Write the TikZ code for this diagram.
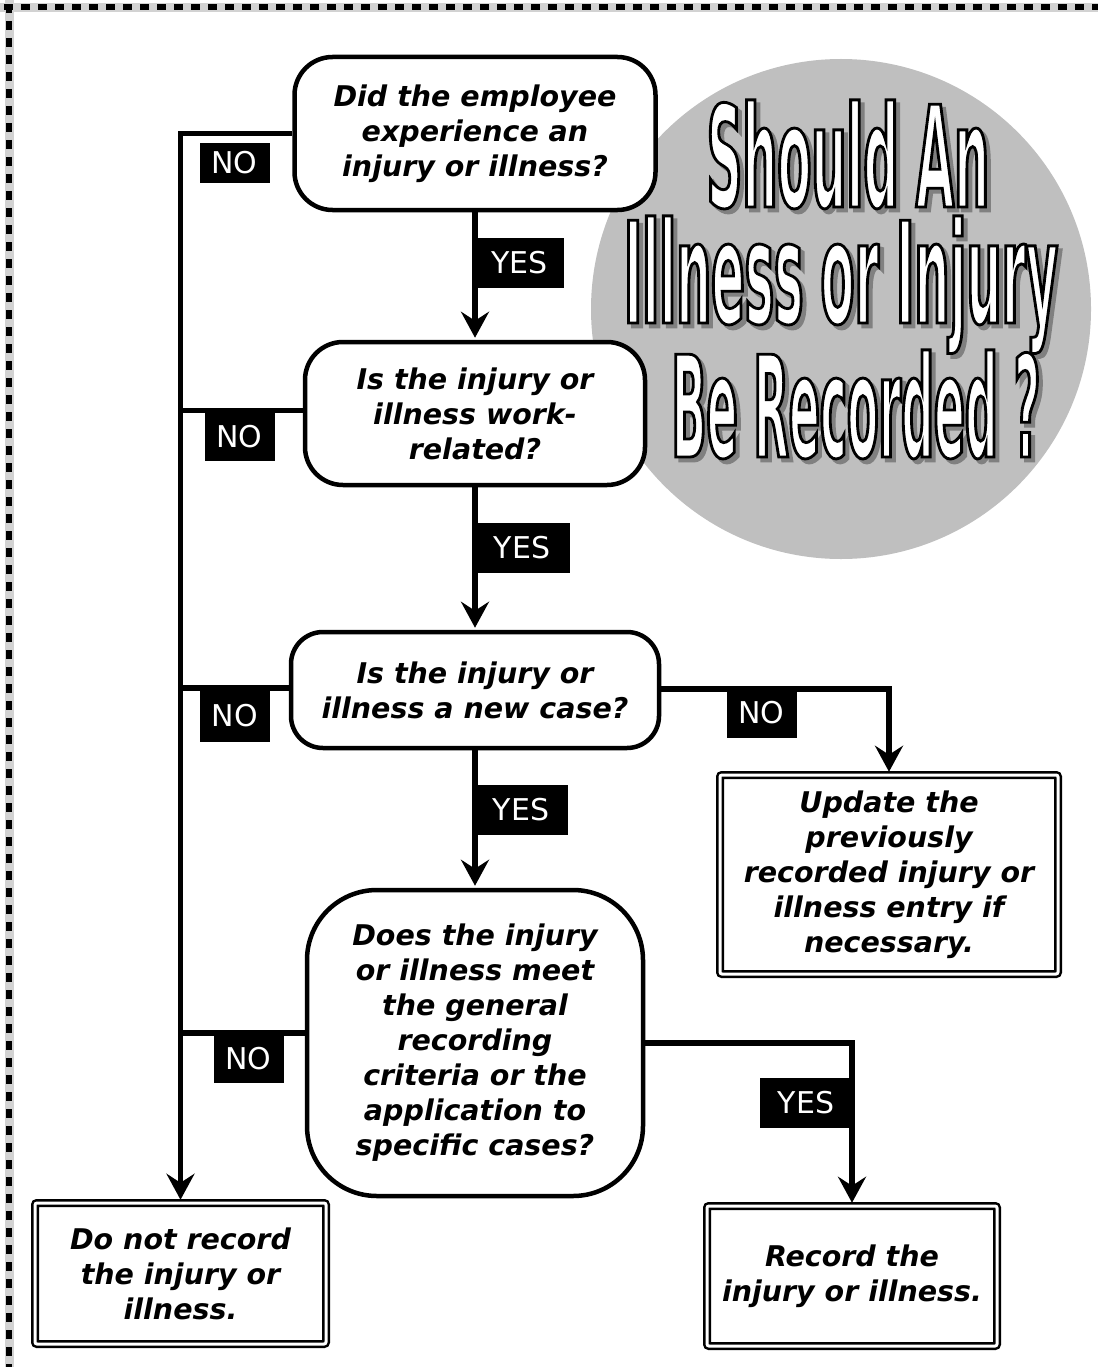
\documentclass[tikz,border=0pt]{standalone}
\usepackage{fontspec}
\setmainfont{DejaVu Sans}[BoldFont={DejaVu Sans Bold}, ItalicFont={DejaVu Sans Oblique}, BoldItalicFont={DejaVu Sans Bold Oblique}]
\newfontfamily\titlefont{DejaVu Sans Bold}[FakeStretch=0.35, FakeBold=2]
\newfontfamily\titlefontnarrow{DejaVu Sans Bold}[FakeStretch=0.325, FakeBold=2]
\usetikzlibrary{arrows.meta}
\definecolor{disc}{rgb}{0.75, 0.75, 0.75}
\definecolor{shade}{rgb}{0.5, 0.5, 0.5}
\newcommand\qfont{\bfseries\itshape\fontsize{28.5}{35}\selectfont}
\newcommand\tagfont{\fontsize{30}{30}\selectfont}
% white letters with a black stroke
\newcommand\inked{\special{pdf:literal direct 0 G}}

\begin{document}
\begin{tikzpicture}[x=1pt, y=-1pt,
    decision/.style={draw, line width=4.5pt, fill=white, rounded corners=38pt, align=center, inner sep=0pt, font=\qfont},
    endbox/.style={draw, line width=2.5pt, double, double distance=3pt, fill=white, rounded corners=2pt, align=center, inner sep=0pt, font=\qfont},
    tag/.style={fill=black, text=white, inner sep=0pt, font=\tagfont, minimum width=70pt, minimum height=49pt},
    yestag/.style={tag, minimum width=93pt, minimum height=50pt},
    titletext/.style={inner sep=0pt, anchor=base, font=\titlefont\fontsize{141}{141}\selectfont},
    branch/.style={line width=5.5pt},
    flow/.style={branch, shorten >=2pt, -{Stealth[length=26pt,width=28pt,inset=9pt]}}]
    \useasboundingbox (0,0) rectangle (1098,1367);
    % page edge
    \draw[line width=9pt, gray!35] (0,7.5) -- (1098,7.5);
    \draw[line width=9pt, gray!35] (9,0) -- (9,1367);
    \draw[line width=6pt, dash pattern=on 9pt off 8pt] (4,7.5) -- (1098,7.5);
    \draw[line width=6pt, dash pattern=on 9pt off 8pt] (9,4) -- (9,1367);

    % title disc
    \fill[disc] (841,309) circle (250pt);
    \node[titletext, text=shade] (shadow1) at (852,211) {Should An};
    \node[titletext, text=shade] (shadow2) at (845,327) {Illness or Injury};
    \node[titletext, text=shade, font=\titlefontnarrow\fontsize{141}{141}\selectfont] (shadow3) at (860,461) {Be Recorded ?};
    \node[titletext, text=white] (title1) at (848,207) {\inked Should An};
    \node[titletext, text=white] (title2) at (841,323) {\inked Illness or Injury};
    \node[titletext, text=white, font=\titlefontnarrow\fontsize{141}{141}\selectfont] (title3) at (856,457) {\inked Be Recorded ?};

    % questions
    \node[decision, minimum width=361pt, minimum height=153pt] (d1) at (475,133.5)
      {Did the employee\\experience an\\injury or illness?};
    \node[decision, minimum width=340pt, minimum height=143pt] (d2) at (475,413.5)
      {Is the injury or\\illness work-\\related?};
    \node[decision, minimum width=368pt, minimum height=116pt, rounded corners=32pt] (d3) at (475,690)
      {Is the injury or\\illness a new case?};
    \node[decision, minimum width=336pt, minimum height=306pt, rounded corners=70pt] (d4) at (475,1043)
      {Does the injury\\or illness meet\\the general\\recording\\criteria or the\\application to\\specific cases?};

    % outcomes
    \node[endbox, minimum width=338pt, minimum height=199pt] (e1) at (889,874.5)
      {Update the\\previously\\recorded injury or\\illness entry if\\necessary.};
    \node[endbox, minimum width=291pt, minimum height=141pt] (e2) at (180.5,1273.5)
      {Do not record\\the injury or\\illness.};
    \node[endbox, minimum width=290pt, minimum height=140pt] (e3) at (852,1276)
      {Record the\\injury or illness.};

    % connectors
    \draw[flow] (d1.west) -| (e2.north);
    \draw[branch] ([yshift=3pt]d2.west) -- ([yshift=3pt]d2.west -| e2.north);
    \draw[branch] ([yshift=2pt]d3.west) -- ([yshift=2pt]d3.west -| e2.north);
    \draw[branch] ([yshift=10pt]d4.west) -- ([yshift=10pt]d4.west -| e2.north);
    \draw[flow] (d1) -- (d2);
    \draw[flow] (d2) -- (d3);
    \draw[flow] (d3) -- (d4);
    \draw[flow] ([yshift=1pt]d3.east) -| (e1.north);
    \draw[flow] (d4.east) -| (e3.north);

    % answers
    \node[tag, minimum height=40pt] (no1) at (234.5,163) {NO};
    \node[tag] (no2) at (239.5,436.5) {NO};
    \node[tag, minimum height=52pt] (no3) at (235,716) {NO};
    \node[tag, minimum height=48pt] (no4) at (248.5,1059) {NO};
    \node[tag, minimum height=51pt] (no5) at (761.5,712.5) {NO};
    \node[yestag, minimum width=89pt] (yes1) at (519.5,262.5) {YES};
    \node[yestag, minimum width=96pt] (yes2) at (522,548) {YES};
    \node[yestag, minimum width=94pt] (yes3) at (521,810) {YES};
    \node[yestag, minimum width=92pt] (yes4) at (806,1103) {YES};
\end{tikzpicture}
\end{document}
